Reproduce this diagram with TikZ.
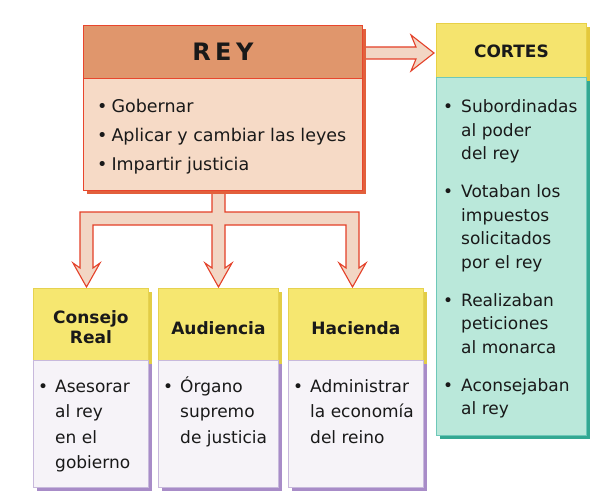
\documentclass[tikz,border=0pt]{standalone}
\usepackage{fontspec}
\setmainfont{DejaVu Sans}
\usetikzlibrary{shadows,calc}
\definecolor{reyhd}{RGB}{224,150,108}
\definecolor{reybd}{RGB}{246,218,198}
\definecolor{reyline}{RGB}{232,70,45}
\definecolor{reysh}{RGB}{226,96,60}
\definecolor{arrfill}{RGB}{242,214,196}
\definecolor{arrline}{RGB}{228,64,40}
\definecolor{corhd}{RGB}{245,228,110}
\definecolor{corhdline}{RGB}{232,208,70}
\definecolor{corhdsh}{RGB}{228,200,60}
\definecolor{corbd}{RGB}{186,232,218}
\definecolor{corbdline}{RGB}{110,200,185}
\definecolor{corsh}{RGB}{52,168,146}
\definecolor{bhd}{RGB}{246,231,112}
\definecolor{bhdline}{RGB}{230,210,80}
\definecolor{bhdsh}{RGB}{226,205,70}
\definecolor{bbd}{RGB}{246,243,248}
\definecolor{bbdline}{RGB}{200,185,220}
\definecolor{bsh}{RGB}{168,140,200}
\definecolor{ink}{RGB}{25,25,25}
\begin{document}
\begin{tikzpicture}[x=1pt,y=-1pt,
  box/.style={draw, line width=0.8pt, inner sep=0pt, anchor=north west},
  shad/.style={drop shadow={fill=#1, opacity=1, shadow xshift=4pt, shadow yshift=-4pt}},
  reyhead/.style={box, draw=reyline, fill=reyhd, shad=reysh},
  reybody/.style={box, draw=reyline, fill=reybd, shad=reysh},
  corhead/.style={box, draw=corhdline, fill=corhd, shad=corhdsh},
  corbody/.style={box, draw=corbdline, fill=corbd, shad=corsh},
  bhead/.style={box, draw=bhdline, fill=bhd, shad=bhdsh},
  bbody/.style={box, draw=bbdline, fill=bbd, shad=bsh},
  htxt/.style={inner sep=0pt, text=ink, font={\fontsize{17}{20}\selectfont\bfseries}, align=center},
  txt/.style={inner sep=0pt, anchor=base west, text=ink},
  arr/.style={fill=arrfill, draw=arrline, line width=1.1pt, line join=miter}]
\useasboundingbox (0,0) rectangle (597,500);
\fill[white] (0,0) rectangle (597,500);

% arrows (drawn first, partly hidden under the boxes)
\draw[arr] (355,47) -- (416,47) -- (411,35) -- (434,53) -- (411,71) -- (416,59) -- (355,59) -- cycle;
\draw[arr] (212,185) -- (212,212) -- (80,212) -- (80,268) -- (73,263) -- (86.5,287) -- (100,263) -- (93,268)
  -- (93,225) -- (212,225) -- (212,268) -- (205,263) -- (218.5,287) -- (232,263) -- (225,268)
  -- (225,225) -- (346,225) -- (346,268) -- (339,263) -- (352.5,287) -- (366,263) -- (359,268)
  -- (359,212) -- (225,212) -- (225,185) -- cycle;

% REY
\node[reyhead, minimum width=279pt, minimum height=53pt] (reyh) at (83,25) {};
\node[reybody, minimum width=279pt, minimum height=112pt] (reyb) at (83,78) {};
\node[inner sep=0pt, text=ink, font={\fontsize{24}{28}\selectfont\bfseries}] (reyl) at (reyh.center) {R\hspace{4.5pt}E\hspace{4.5pt}Y};
\node[txt, font={\fontsize{17.5}{29}\selectfont}] (reyt) at (97,112.7)
  {\begin{tabular}[t]{@{}l@{\hspace{4pt}}l@{}}\textbullet & Gobernar\\ \textbullet & Aplicar y cambiar las leyes\\ \textbullet & Impartir justicia\end{tabular}};

% CORTES
\node[corhead, minimum width=150pt, minimum height=54pt] (corh) at (436,23) {};
\node[corbody, minimum width=150pt, minimum height=358pt] (corb) at (436,77) {};
\node[htxt] (corl) at ($(corh.center)+(0,1)$) {CORTES};
\node[txt, font={\fontsize{17}{23.5}\selectfont}] (cort) at (443,113)
  {\begin{tabular}[t]{@{}l@{\hspace{8pt}}l@{}}\textbullet & Subordinadas\\ & al poder\\ & del rey\\[14.5pt]
   \textbullet & Votaban los\\ & impuestos\\ & solicitados\\ & por el rey\\[14.5pt]
   \textbullet & Realizaban\\ & peticiones\\ & al monarca\\[14.5pt]
   \textbullet & Aconsejaban\\ & al rey\end{tabular}};

% Consejo Real
\node[bhead, minimum width=115pt, minimum height=72pt] (conh) at (33,288) {};
\node[bbody, minimum width=115pt, minimum height=127pt] (conb) at (33,360) {};
\node[htxt] (conl) at ($(conh.center)+(0,3)$) {Consejo\\Real};
\node[txt, font={\fontsize{17}{25.2}\selectfont}] (cont) at (38,392.7)
  {\begin{tabular}[t]{@{}l@{\hspace{7pt}}l@{}}\textbullet & Asesorar\\ & al rey\\ & en el\\ & gobierno\end{tabular}};

% Audiencia
\node[bhead, minimum width=120pt, minimum height=72pt] (audh) at (158,288) {};
\node[bbody, minimum width=120pt, minimum height=127pt] (audb) at (158,360) {};
\node[htxt] (audl) at ($(audh.center)+(0,3.5)$) {Audiencia};
\node[txt, font={\fontsize{17}{25.2}\selectfont}] (audt) at (163,392.7)
  {\begin{tabular}[t]{@{}l@{\hspace{7pt}}l@{}}\textbullet & Órgano\\ & supremo\\ & de justicia\end{tabular}};

% Hacienda
\node[bhead, minimum width=135pt, minimum height=72pt] (hach) at (288,288) {};
\node[bbody, minimum width=135pt, minimum height=127pt] (hacb) at (288,360) {};
\node[htxt] (hacl) at ($(hach.center)+(0,3.5)$) {Hacienda};
\node[txt, font={\fontsize{17}{25.2}\selectfont}] (hact) at (293,392.7)
  {\begin{tabular}[t]{@{}l@{\hspace{7pt}}l@{}}\textbullet & Administrar\\ & la economía\\ & del reino\end{tabular}};
\end{tikzpicture}
\end{document}
